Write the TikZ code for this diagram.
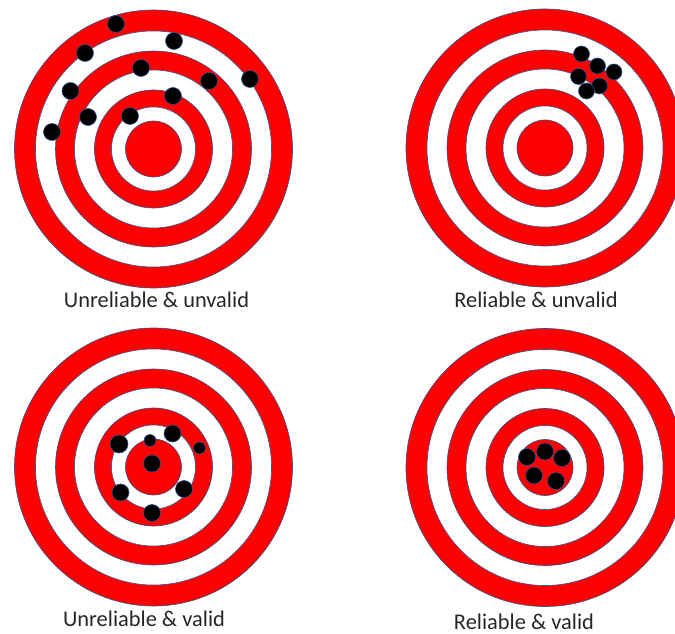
\documentclass[tikz,border=0pt]{standalone}
\usepackage{fontspec}
\setmainfont{Carlito}
\definecolor{ringedge}{HTML}{2F528F}
\definecolor{captiontext}{HTML}{262626}
\tikzset{
  redring/.style={fill=red, draw=ringedge, line width=0.6bp},
  whitering/.style={fill=white, draw=ringedge, line width=0.6bp},
  hit/.style={fill=black, draw=ringedge, line width=0.6bp},
  caption/.style={text=captiontext, inner sep=0pt, font=\fontsize{22.5}{27}\selectfont}
}
\begin{document}
\begin{tikzpicture}[x=1bp, y=-1bp]
\useasboundingbox (0,0) rectangle (675,634);

% top left target
\draw[redring] (153.5,149) circle[radius=139bp];
\draw[whitering] (153.5,149) circle[radius=118bp];
\draw[redring] (153.5,149) circle[radius=98bp];
\draw[whitering] (153.5,149) circle[radius=79bp];
\draw[redring] (153.5,149) circle[radius=59bp];
\draw[whitering] (153.5,149) circle[radius=42bp];
\draw[redring] (153.5,149) circle[radius=28bp];
\draw[hit] (116,24) circle[radius=8.5bp];
\draw[hit] (174,41) circle[radius=8.5bp];
\draw[hit] (85,53) circle[radius=8.5bp];
\draw[hit] (141,68) circle[radius=8.5bp];
\draw[hit] (209,81) circle[radius=8.5bp];
\draw[hit] (250,79) circle[radius=8.5bp];
\draw[hit] (70.5,91) circle[radius=8.5bp];
\draw[hit] (173,96) circle[radius=8.5bp];
\draw[hit] (88,117) circle[radius=8.5bp];
\draw[hit] (130,116) circle[radius=8.5bp];
\draw[hit] (52,132) circle[radius=8.5bp];
\node[caption] (capA) at (156.5,299.5) {Unreliable \& unvalid};

% top right target
\draw[redring] (545,148) circle[radius=139bp];
\draw[whitering] (545,148) circle[radius=118bp];
\draw[redring] (545,148) circle[radius=98bp];
\draw[whitering] (545,148) circle[radius=79bp];
\draw[redring] (545,148) circle[radius=59bp];
\draw[whitering] (545,148) circle[radius=42bp];
\draw[redring] (545,148) circle[radius=28bp];
\draw[hit] (581.5,54) circle[radius=8bp];
\draw[hit] (597.5,66) circle[radius=8bp];
\draw[hit] (614,72) circle[radius=8bp];
\draw[hit] (578.5,76.5) circle[radius=8bp];
\draw[hit] (599.5,86) circle[radius=8bp];
\draw[hit] (586.5,91) circle[radius=8bp];
\node[caption] (capB) at (536,299.5) {Reliable \& unvalid};

% bottom left target
\draw[redring] (153.5,467) circle[radius=139bp];
\draw[whitering] (153.5,467) circle[radius=118bp];
\draw[redring] (153.5,467) circle[radius=98bp];
\draw[whitering] (153.5,467) circle[radius=79bp];
\draw[redring] (153.5,467) circle[radius=59bp];
\draw[whitering] (153.5,467) circle[radius=42bp];
\draw[redring] (153.5,467) circle[radius=28bp];
\draw[hit] (119,444) circle[radius=9bp];
\draw[hit] (150,440.5) circle[radius=6bp];
\draw[hit] (172.5,433.5) circle[radius=8.5bp];
\draw[hit] (199.5,448) circle[radius=6bp];
\draw[hit] (152,463.5) circle[radius=8.5bp];
\draw[hit] (120.5,492.5) circle[radius=8.5bp];
\draw[hit] (184,489) circle[radius=8.5bp];
\draw[hit] (152,513) circle[radius=8.5bp];
\node[caption] (capC) at (144,619) {Unreliable \& valid};

% bottom right target
\draw[redring] (545,467.5) circle[radius=139bp];
\draw[whitering] (545,467.5) circle[radius=118bp];
\draw[redring] (545,467.5) circle[radius=98bp];
\draw[whitering] (545,467.5) circle[radius=79bp];
\draw[redring] (545,467.5) circle[radius=59bp];
\draw[whitering] (545,467.5) circle[radius=42bp];
\draw[redring] (545,467.5) circle[radius=28bp];
\draw[hit] (527,457) circle[radius=8.5bp];
\draw[hit] (545,451.5) circle[radius=8.5bp];
\draw[hit] (562,458) circle[radius=8.5bp];
\draw[hit] (534,475.5) circle[radius=8.5bp];
\draw[hit] (556,481) circle[radius=8.5bp];
\node[caption] (capD) at (524,621.5) {Reliable \& valid};
\end{tikzpicture}
\end{document}
